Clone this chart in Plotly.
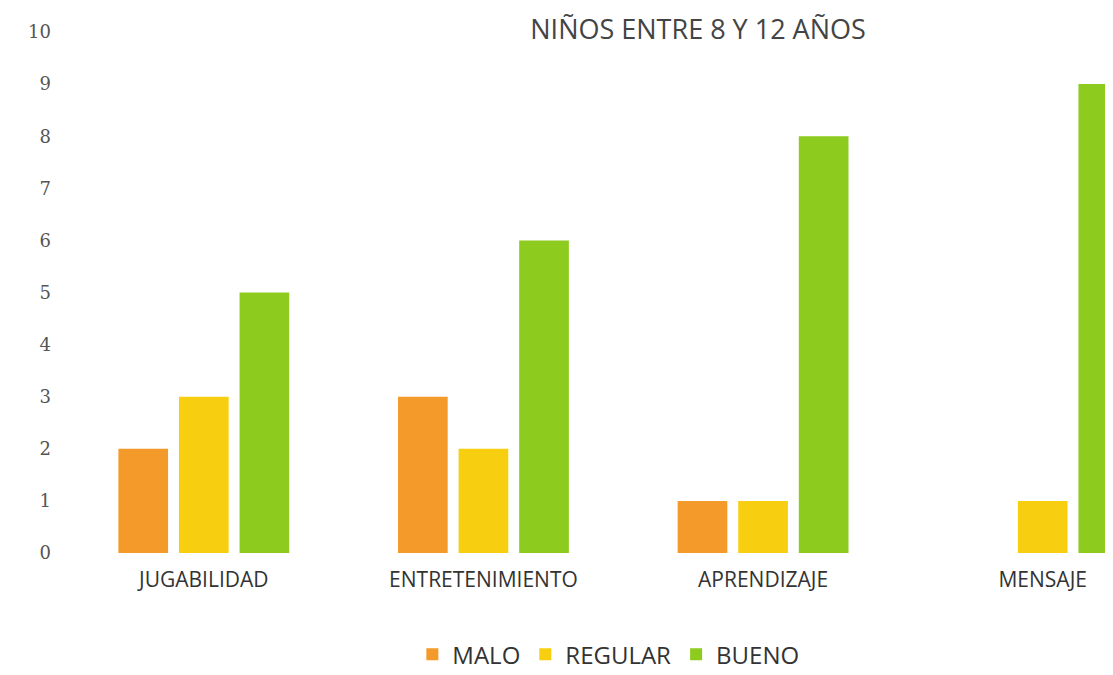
import plotly.graph_objects as go

categories = ["JUGABILIDAD", "ENTRETENIMIENTO", "APRENDIZAJE", "MENSAJE"]
malo = [2, 3, 1, 0]
regular = [3, 2, 1, 1]
bueno = [5, 6, 8, 9]
y_ticks = list(range(0, 11))
title_text = "NIÑOS ENTRE 8 Y 12 AÑOS"

font_family = "Open Sans, Liberation Sans, sans-serif"

fig = go.Figure()
fig.add_trace(go.Bar(name="MALO", x=categories, y=malo, marker=dict(color="#F39A2A", line=dict(width=0))))
fig.add_trace(go.Bar(name="REGULAR", x=categories, y=regular, marker=dict(color="#F7CF10", line=dict(width=0))))
fig.add_trace(go.Bar(name="BUENO", x=categories, y=bueno, marker=dict(color="#8DCB1F", line=dict(width=0))))

fig.update_layout(
    width=1113, height=675,
    margin=dict(l=56, r=0, t=24, b=130),
    paper_bgcolor="white", plot_bgcolor="white",
    barmode="group", bargap=0.35, bargroupgap=0.18,
    font=dict(family=font_family, color="#333333"),
    title=dict(text=title_text, x=0.62, xanchor="center", y=0.982, yanchor="top",
               font=dict(size=27, color="#444444")),
    xaxis=dict(range=[-0.5, 3.28], showgrid=False, showline=False, zeroline=False,
               tickfont=dict(size=21, color="#333333"), ticks="", ticklabelstandoff=12),
    yaxis=dict(range=[0, 10], tickvals=y_ticks, showgrid=False, zeroline=False, showline=False,
               tickfont=dict(size=18, color="#555555", family="DejaVu Serif, serif"), ticklabelstandoff=12),
    legend=dict(orientation="h", x=0.515, xanchor="center", y=-0.195, yanchor="middle",
                font=dict(size=24, color="#333333"), itemwidth=30, tracegroupgap=0),
)

fig.write_html("out.html")
